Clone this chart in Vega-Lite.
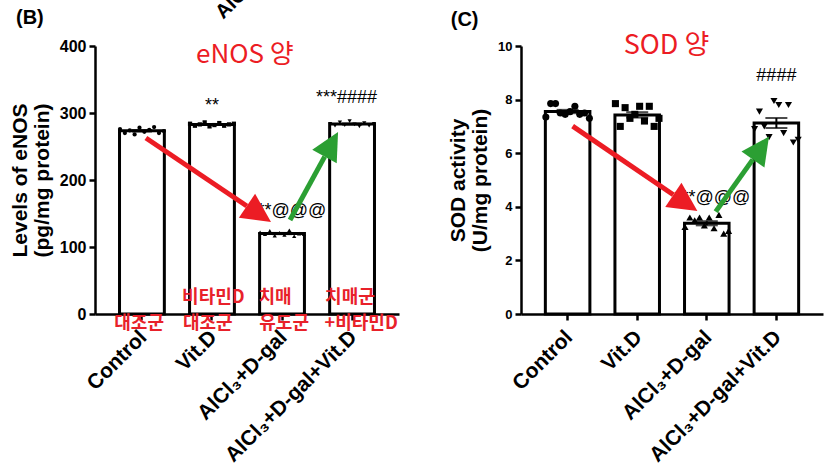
{
  "$schema": "https://vega.github.io/schema/vega-lite/v6.json",
  "background": "white",
  "padding": {"left": 9, "top": -16, "right": 2, "bottom": 0},
  "spacing": 48,
  "config": {
    "view": {"stroke": null},
    "font": "Liberation Sans",
    "axis": {"domainColor": "black", "domainWidth": 2.5, "tickColor": "black", "tickWidth": 2.5, "tickSize": 6, "grid": false, "labelFont": "Liberation Sans", "labelFontWeight": "bold", "labelColor": "black", "titleFont": "Liberation Sans", "titleColor": "black", "titleFontWeight": "bold"},
    "axisY": {"titleFontSize": 21, "titleLineHeight": 22, "titlePadding": 7, "labelPadding": 3},
    "axisX": {"labelAngle": -45, "labelFontSize": 21, "labelAlign": "right", "labelBaseline": "top", "labelPadding": 6, "labelOffset": -6, "labelOverlap": false, "labelFlush": false}
  },
  "datasets": {
    "enos": [
      {"group": "Control", "rep": 1, "value": 276}, {"group": "Control", "rep": 2, "value": 270}, {"group": "Control", "rep": 3, "value": 274}, {"group": "Control", "rep": 4, "value": 268}, {"group": "Control", "rep": 5, "value": 278}, {"group": "Control", "rep": 6, "value": 272}, {"group": "Control", "rep": 7, "value": 275}, {"group": "Control", "rep": 8, "value": 279}, {"group": "Control", "rep": 9, "value": 270}, {"group": "Control", "rep": 10, "value": 273},
      {"group": "Vit.D", "rep": 1, "value": 284}, {"group": "Vit.D", "rep": 2, "value": 281}, {"group": "Vit.D", "rep": 3, "value": 283}, {"group": "Vit.D", "rep": 4, "value": 286}, {"group": "Vit.D", "rep": 5, "value": 280}, {"group": "Vit.D", "rep": 6, "value": 282}, {"group": "Vit.D", "rep": 7, "value": 285}, {"group": "Vit.D", "rep": 8, "value": 281}, {"group": "Vit.D", "rep": 9, "value": 283}, {"group": "Vit.D", "rep": 10, "value": 284},
      {"group": "AlCl₃+D-gal", "rep": 1, "value": 122}, {"group": "AlCl₃+D-gal", "rep": 2, "value": 119}, {"group": "AlCl₃+D-gal", "rep": 3, "value": 124}, {"group": "AlCl₃+D-gal", "rep": 4, "value": 117}, {"group": "AlCl₃+D-gal", "rep": 5, "value": 121}, {"group": "AlCl₃+D-gal", "rep": 6, "value": 118}, {"group": "AlCl₃+D-gal", "rep": 7, "value": 125}, {"group": "AlCl₃+D-gal", "rep": 8, "value": 116}, {"group": "AlCl₃+D-gal", "rep": 9, "value": 120}, {"group": "AlCl₃+D-gal", "rep": 10, "value": 119},
      {"group": "AlCl₃+D-gal+Vit.D", "rep": 1, "value": 284}, {"group": "AlCl₃+D-gal+Vit.D", "rep": 2, "value": 281}, {"group": "AlCl₃+D-gal+Vit.D", "rep": 3, "value": 286}, {"group": "AlCl₃+D-gal+Vit.D", "rep": 4, "value": 282}, {"group": "AlCl₃+D-gal+Vit.D", "rep": 5, "value": 288}, {"group": "AlCl₃+D-gal+Vit.D", "rep": 6, "value": 283}, {"group": "AlCl₃+D-gal+Vit.D", "rep": 7, "value": 280}, {"group": "AlCl₃+D-gal+Vit.D", "rep": 8, "value": 285}, {"group": "AlCl₃+D-gal+Vit.D", "rep": 9, "value": 281}, {"group": "AlCl₃+D-gal+Vit.D", "rep": 10, "value": 284}
    ],
    "sod": [
      {"group": "Control", "rep": 1, "value": 7.35}, {"group": "Control", "rep": 2, "value": 7.85}, {"group": "Control", "rep": 3, "value": 7.85}, {"group": "Control", "rep": 4, "value": 7.5}, {"group": "Control", "rep": 5, "value": 7.45}, {"group": "Control", "rep": 6, "value": 7.55}, {"group": "Control", "rep": 7, "value": 7.75}, {"group": "Control", "rep": 8, "value": 7.45}, {"group": "Control", "rep": 9, "value": 7.5}, {"group": "Control", "rep": 10, "value": 7.3},
      {"group": "Vit.D", "rep": 1, "value": 7.85}, {"group": "Vit.D", "rep": 2, "value": 7.0}, {"group": "Vit.D", "rep": 3, "value": 7.7}, {"group": "Vit.D", "rep": 4, "value": 7.3}, {"group": "Vit.D", "rep": 5, "value": 7.45}, {"group": "Vit.D", "rep": 6, "value": 7.75}, {"group": "Vit.D", "rep": 7, "value": 7.2}, {"group": "Vit.D", "rep": 8, "value": 7.75}, {"group": "Vit.D", "rep": 9, "value": 7.0}, {"group": "Vit.D", "rep": 10, "value": 7.3},
      {"group": "AlCl₃+D-gal", "rep": 1, "value": 3.25}, {"group": "AlCl₃+D-gal", "rep": 2, "value": 3.6}, {"group": "AlCl₃+D-gal", "rep": 3, "value": 3.5}, {"group": "AlCl₃+D-gal", "rep": 4, "value": 3.6}, {"group": "AlCl₃+D-gal", "rep": 5, "value": 3.3}, {"group": "AlCl₃+D-gal", "rep": 6, "value": 3.6}, {"group": "AlCl₃+D-gal", "rep": 7, "value": 3.2}, {"group": "AlCl₃+D-gal", "rep": 8, "value": 3.7}, {"group": "AlCl₃+D-gal", "rep": 9, "value": 3.0}, {"group": "AlCl₃+D-gal", "rep": 10, "value": 3.1},
      {"group": "AlCl₃+D-gal+Vit.D", "rep": 1, "value": 6.9}, {"group": "AlCl₃+D-gal+Vit.D", "rep": 2, "value": 7.55}, {"group": "AlCl₃+D-gal+Vit.D", "rep": 3, "value": 7.0}, {"group": "AlCl₃+D-gal+Vit.D", "rep": 4, "value": 6.6}, {"group": "AlCl₃+D-gal+Vit.D", "rep": 5, "value": 7.95}, {"group": "AlCl₃+D-gal+Vit.D", "rep": 6, "value": 7.8}, {"group": "AlCl₃+D-gal+Vit.D", "rep": 7, "value": 6.75}, {"group": "AlCl₃+D-gal+Vit.D", "rep": 8, "value": 7.8}, {"group": "AlCl₃+D-gal+Vit.D", "rep": 9, "value": 6.4}, {"group": "AlCl₃+D-gal+Vit.D", "rep": 10, "value": 6.5}
    ]
  },
  "hconcat": [
    {
      "width": 304,
      "height": 268,
      "resolve": {"scale": {"x": "independent", "xOffset": "independent"}},
      "layer": [
        {
          "data": {"name": "enos"},
          "encoding": {
            "x": {"field": "group", "type": "nominal", "sort": ["Control", "Vit.D", "AlCl₃+D-gal", "AlCl₃+D-gal+Vit.D"], "scale": {"paddingInner": 0.36, "paddingOuter": 0.35}, "axis": {"title": null}}
          },
          "layer": [
            {"mark": {"type": "bar", "fill": "white", "stroke": "black", "strokeWidth": 3},
             "encoding": {"y": {"aggregate": "mean", "field": "value", "type": "quantitative", "scale": {"domain": [0, 400], "nice": false}, "title": ["Levels of eNOS", "(pg/mg protein)"], "axis": {"values": [0, 100, 200, 300, 400], "labelFontSize": 16}}}},
            {"mark": {"type": "errorbar", "extent": "stderr", "color": "black", "ticks": {"size": 20, "thickness": 2}, "rule": {"strokeWidth": 2}},
             "encoding": {"y": {"field": "value", "type": "quantitative", "scale": {"domain": [0, 400], "nice": false}, "title": ["Levels of eNOS", "(pg/mg protein)"], "axis": {"values": [0, 100, 200, 300, 400], "labelFontSize": 16}}}}
          ]
        },
        {
          "data": {"name": "enos"},
          "mark": {"type": "point", "filled": true, "color": "black", "opacity": 1, "size": 18},
          "encoding": {
            "x": {"field": "group", "type": "nominal", "sort": ["Control", "Vit.D", "AlCl₃+D-gal", "AlCl₃+D-gal+Vit.D"], "scale": {"paddingInner": 0.36, "paddingOuter": 0.35}, "axis": null},
            "y": {"field": "value", "type": "quantitative", "scale": {"domain": [0, 400], "nice": false}, "title": ["Levels of eNOS", "(pg/mg protein)"], "axis": {"values": [0, 100, 200, 300, 400], "labelFontSize": 16}},
            "xOffset": {"field": "rep", "type": "nominal", "scale": {"paddingOuter": 0.1}},
            "shape": {"field": "group", "type": "nominal", "scale": {"domain": ["Control", "Vit.D", "AlCl₃+D-gal", "AlCl₃+D-gal+Vit.D"], "range": ["circle", "square", "triangle-up", "triangle-down"]}, "legend": null}
          }
        },
        {
          "encoding": {
            "x": {"field": "x", "type": "quantitative", "scale": {"domain": [-0.67, 3.67], "nice": false, "zero": false}, "axis": null},
            "y": {"field": "y", "type": "quantitative", "scale": {"domain": [0, 400], "nice": false}, "title": ["Levels of eNOS", "(pg/mg protein)"], "axis": {"values": [0, 100, 200, 300, 400], "labelFontSize": 16}}
          },
          "layer": [
            {"data": {"values": [{"x": -1.6, "y": 442, "text": "(B)"}]},
             "mark": {"type": "text", "font": "Liberation Sans", "fontWeight": "bold", "fontSize": 20, "baseline": "middle", "color": "black"},
             "encoding": {"text": {"field": "text"}}},
            {"data": {"values": [{"x": 1.16, "y": 439, "text": "AlC"}]},
             "mark": {"type": "text", "font": "Liberation Sans", "fontWeight": "bold", "fontSize": 20, "angle": 315, "align": "left", "baseline": "alphabetic", "color": "black"},
             "encoding": {"text": {"field": "text"}}},
            {"data": {"values": [{"x": 1.47, "y": 386, "text": "eNOS 양"}]},
             "mark": {"type": "text", "font": "Noto Sans CJK KR", "fontSize": 26, "color": "#ec1c24", "baseline": "middle"},
             "encoding": {"text": {"field": "text"}}},
            {"data": {"values": [
               {"x": 1.0, "y": 310, "text": "**"},
               {"x": 2.92, "y": 322, "text": "***####"},
               {"x": 2.09, "y": 154, "text": "***@@@"}
             ]},
             "mark": {"type": "text", "font": "Liberation Sans", "fontSize": 18, "color": "black", "baseline": "middle"},
             "encoding": {"text": {"field": "text"}}},
            {"data": {"values": [
               {"x": -0.04, "y": -15, "text": "대조군"},
               {"x": 1.02, "y": 24, "text": "비타민D"},
               {"x": 0.94, "y": -15, "text": "대조군"},
               {"x": 1.9, "y": 24, "text": "치매"},
               {"x": 2.03, "y": -15, "text": "유도군"},
               {"x": 2.97, "y": 24, "text": "치매군"},
               {"x": 3.13, "y": -15, "text": "+비타민D"}
             ]},
             "mark": {"type": "text", "font": "Noto Sans CJK KR", "fontWeight": "bold", "fontSize": 18, "color": "#e8212a", "baseline": "middle"},
             "encoding": {"text": {"field": "text"}}},
            {"data": {"values": [
               {"arrow": "red", "part": "tail", "x": 0.057, "y": 262.7},
               {"arrow": "red", "part": "base", "x": 1.497, "y": 161.2},
               {"arrow": "red", "part": "tip", "x": 1.843, "y": 137.3},
               {"arrow": "green", "part": "tail", "x": 2.114, "y": 140.3},
               {"arrow": "green", "part": "base", "x": 2.609, "y": 234.9},
               {"arrow": "green", "part": "tip", "x": 2.8, "y": 271.6}
             ]},
             "layer": [
               {"transform": [{"filter": "datum.part !== 'tip'"}],
                "mark": {"type": "line", "strokeWidth": 5},
                "encoding": {"color": {"field": "arrow", "type": "nominal", "scale": {"domain": ["red", "green"], "range": ["#ec1c24", "#2b9f33"]}, "legend": null}}},
               {"transform": [{"filter": "datum.part === 'tip' && datum.arrow === 'red'"}],
                "mark": {"type": "point", "shape": "M0,0L1,2L-1,2Z", "size": 841, "angle": 124, "filled": true, "opacity": 1, "color": "#ec1c24", "strokeWidth": 0},
                "encoding": {}},
               {"transform": [{"filter": "datum.part === 'tip' && datum.arrow === 'green'"}],
                "mark": {"type": "point", "shape": "M0,0L1,2L-1,2Z", "size": 784, "angle": 29, "filled": true, "opacity": 1, "color": "#2b9f33", "strokeWidth": 0},
                "encoding": {}}
             ]}
          ]
        }
      ]
    },
    {
      "width": 302,
      "height": 268,
      "resolve": {"scale": {"x": "independent", "xOffset": "independent"}},
      "layer": [
        {
          "data": {"name": "sod"},
          "encoding": {
            "x": {"field": "group", "type": "nominal", "sort": ["Control", "Vit.D", "AlCl₃+D-gal", "AlCl₃+D-gal+Vit.D"], "scale": {"paddingInner": 0.36, "paddingOuter": 0.35}, "axis": {"title": null}}
          },
          "layer": [
            {"mark": {"type": "bar", "fill": "white", "stroke": "black", "strokeWidth": 3},
             "encoding": {"y": {"aggregate": "mean", "field": "value", "type": "quantitative", "scale": {"domain": [0, 10], "nice": false}, "title": ["SOD activity", "(U/mg protein)"], "axis": {"values": [0, 2, 4, 6, 8, 10], "labelFontSize": 13}}}},
            {"mark": {"type": "errorbar", "extent": "stderr", "color": "black", "ticks": {"size": 22, "thickness": 2}, "rule": {"strokeWidth": 2}},
             "encoding": {"y": {"field": "value", "type": "quantitative", "scale": {"domain": [0, 10], "nice": false}, "title": ["SOD activity", "(U/mg protein)"], "axis": {"values": [0, 2, 4, 6, 8, 10], "labelFontSize": 13}}}}
          ]
        },
        {
          "data": {"name": "sod"},
          "mark": {"type": "point", "filled": true, "color": "black", "opacity": 1, "size": 50},
          "encoding": {
            "x": {"field": "group", "type": "nominal", "sort": ["Control", "Vit.D", "AlCl₃+D-gal", "AlCl₃+D-gal+Vit.D"], "scale": {"paddingInner": 0.36, "paddingOuter": 0.35}, "axis": null},
            "y": {"field": "value", "type": "quantitative", "scale": {"domain": [0, 10], "nice": false}, "title": ["SOD activity", "(U/mg protein)"], "axis": {"values": [0, 2, 4, 6, 8, 10], "labelFontSize": 13}},
            "xOffset": {"field": "rep", "type": "nominal", "scale": {"paddingOuter": 0.1}},
            "shape": {"field": "group", "type": "nominal", "scale": {"domain": ["Control", "Vit.D", "AlCl₃+D-gal", "AlCl₃+D-gal+Vit.D"], "range": ["circle", "square", "triangle-up", "triangle-down"]}, "legend": null}
          }
        },
        {
          "encoding": {
            "x": {"field": "x", "type": "quantitative", "scale": {"domain": [-0.67, 3.67], "nice": false, "zero": false}, "axis": null},
            "y": {"field": "y", "type": "quantitative", "scale": {"domain": [0, 10], "nice": false}, "title": ["SOD activity", "(U/mg protein)"], "axis": {"values": [0, 2, 4, 6, 8, 10], "labelFontSize": 13}}
          },
          "layer": [
            {"data": {"values": [{"x": -1.48, "y": 10.97, "text": "(C)"}]},
             "mark": {"type": "text", "font": "Liberation Sans", "fontWeight": "bold", "fontSize": 20, "baseline": "middle", "color": "black"},
             "encoding": {"text": {"field": "text"}}},
            {"data": {"values": [{"x": 1.42, "y": 10.0, "text": "SOD 양"}]},
             "mark": {"type": "text", "font": "Noto Sans CJK KR", "fontSize": 27, "color": "#ec1c24", "baseline": "middle"},
             "encoding": {"text": {"field": "text"}}},
            {"data": {"values": [
               {"x": 3.0, "y": 8.89, "text": "####"},
               {"x": 2.08, "y": 4.33, "text": "***@@@"}
             ]},
             "mark": {"type": "text", "font": "Liberation Sans", "fontSize": 18, "color": "black", "baseline": "middle"},
             "encoding": {"text": {"field": "text"}}},
            {"data": {"values": [
               {"arrow": "red", "part": "tail", "x": 0.072, "y": 7.01},
               {"arrow": "red", "part": "base", "x": 1.519, "y": 4.45},
               {"arrow": "red", "part": "tip", "x": 1.865, "y": 3.84},
               {"arrow": "green", "part": "tail", "x": 2.128, "y": 3.82},
               {"arrow": "green", "part": "base", "x": 2.66, "y": 5.76},
               {"arrow": "green", "part": "tip", "x": 2.894, "y": 6.62}
             ]},
             "layer": [
               {"transform": [{"filter": "datum.part !== 'tip'"}],
                "mark": {"type": "line", "strokeWidth": 5},
                "encoding": {"color": {"field": "arrow", "type": "nominal", "scale": {"domain": ["red", "green"], "range": ["#ec1c24", "#2b9f33"]}, "legend": null}}},
               {"transform": [{"filter": "datum.part === 'tip' && datum.arrow === 'red'"}],
                "mark": {"type": "point", "shape": "M0,0L1,2L-1,2Z", "size": 841, "angle": 124, "filled": true, "opacity": 1, "color": "#ec1c24", "strokeWidth": 0},
                "encoding": {}},
               {"transform": [{"filter": "datum.part === 'tip' && datum.arrow === 'green'"}],
                "mark": {"type": "point", "shape": "M0,0L1,2L-1,2Z", "size": 784, "angle": 35, "filled": true, "opacity": 1, "color": "#2b9f33", "strokeWidth": 0},
                "encoding": {}}
             ]}
          ]
        }
      ]
    }
  ]
}
